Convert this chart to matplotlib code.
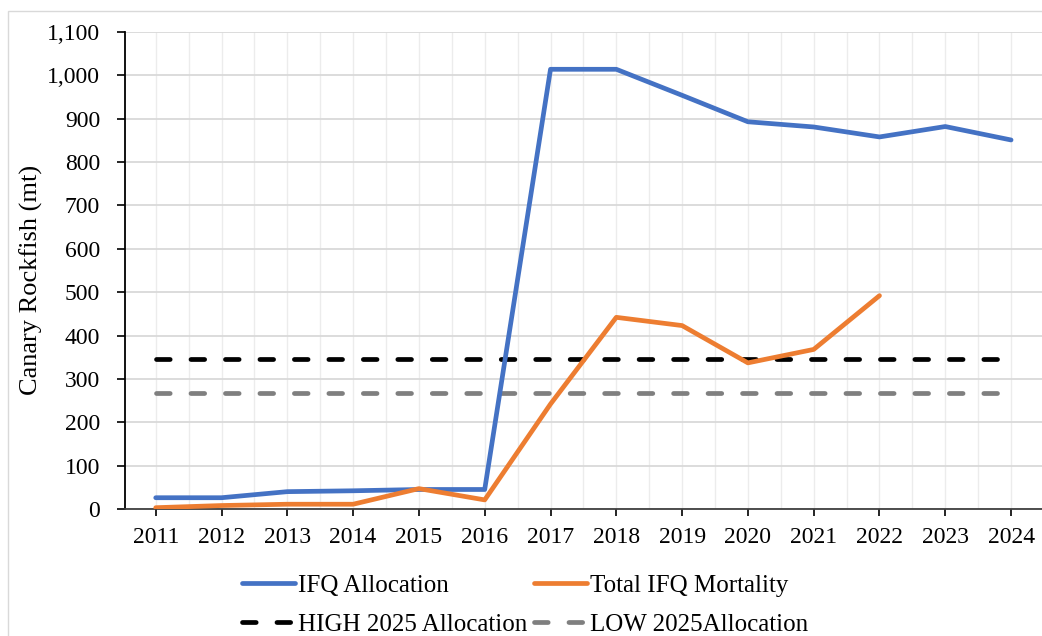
import matplotlib
matplotlib.use("Agg")
import matplotlib.pyplot as plt
from matplotlib.patches import Rectangle
from matplotlib.ticker import FuncFormatter, MultipleLocator

years = [2011, 2012, 2013, 2014, 2015, 2016, 2017, 2018, 2019, 2020, 2021, 2022, 2023, 2024]
ifq_allocation = [26, 26, 40, 42, 45, 45, 1014, 1014, 954, 893, 881, 858, 882, 851]
mort_years = [2011, 2012, 2013, 2014, 2015, 2016, 2017, 2018, 2019, 2020, 2021, 2022]
total_ifq_mortality = [3, 8, 11, 11, 47, 21, 242, 442, 423, 337, 368, 492]
high_2025 = 347
low_2025 = 268

plt.rcParams['font.family'] = ['Liberation Serif', 'DejaVu Serif']

W, H = 1042, 636
fig = plt.figure(figsize=(W / 100, H / 100), dpi=100)
fig.patches.append(Rectangle((8 / W, -0.05), 1.2, 1 - 11 / H + 0.05, transform=fig.transFigure,
                             fill=False, edgecolor='#d9d9d9', linewidth=1.0))
ax = fig.add_axes([125 / W, 1 - 509 / H, (W - 125) / W, (509 - 32) / H])

blue = '#4472c4'
orange = '#ed7d31'
LW = 3.4

l1, = ax.plot(years, ifq_allocation, color=blue, lw=LW, solid_capstyle='round', solid_joinstyle='round',
              label='IFQ Allocation', zorder=4)
l2, = ax.plot(mort_years, total_ifq_mortality, color=orange, lw=LW, solid_capstyle='round',
              solid_joinstyle='round', label='Total IFQ Mortality', zorder=5)
l3, = ax.plot([years[0], years[-1]], [high_2025, high_2025], color='black', lw=LW,
              dashes=(2.9, 4.4), dash_capstyle='round', label='HIGH 2025 Allocation', zorder=3)
l4, = ax.plot([years[0], years[-1]], [low_2025, low_2025], color='#7f7f7f', lw=LW,
              dashes=(2.9, 4.4), dash_capstyle='round', label='LOW 2025Allocation', zorder=3)

ax.set_xlim(2010.533, 2024.47)
ax.set_ylim(0, 1100)
ax.yaxis.set_major_locator(MultipleLocator(100))
ax.yaxis.set_major_formatter(FuncFormatter(lambda v, p: f"{int(v):,}"))
ax.set_xticks(years)
ax.set_xticklabels([str(y) for y in years])
ax.xaxis.set_minor_locator(MultipleLocator(0.5))

ax.grid(axis='y', which='major', color='#d9d9d9', lw=1.3, zorder=0)
ax.grid(axis='x', which='both', color='#ececec', lw=1.0, zorder=0)
ax.set_axisbelow(True)
ax.tick_params(axis='x', which='minor', length=0)
ax.tick_params(axis='both', which='major', labelsize=17, width=1.2, colors='black')
ax.tick_params(axis='x', length=5, pad=8)
ax.tick_params(axis='y', length=6, pad=12)

for s in ['top', 'right']:
    ax.spines[s].set_visible(False)
ax.spines['left'].set_linewidth(1.3)
ax.spines['bottom'].set_linewidth(1.3)
ax.spines['bottom'].set_color('#404040')

ax.set_ylabel('Canary Rockfish (mt)', fontsize=19)
ax.yaxis.set_label_coords((43 - 125) / 917, 1 - (280 - 32) / 477)

fig.legend(handles=[l1, l3, l2, l4], loc='center left', bbox_to_anchor=(242 / W, 1 - 605 / H),
           ncol=2, frameon=False, fontsize=18, handlelength=2.1, handletextpad=0.12,
           columnspacing=0.3, labelspacing=0.66, borderpad=0, borderaxespad=0)

fig.savefig('out.png', dpi=100)
